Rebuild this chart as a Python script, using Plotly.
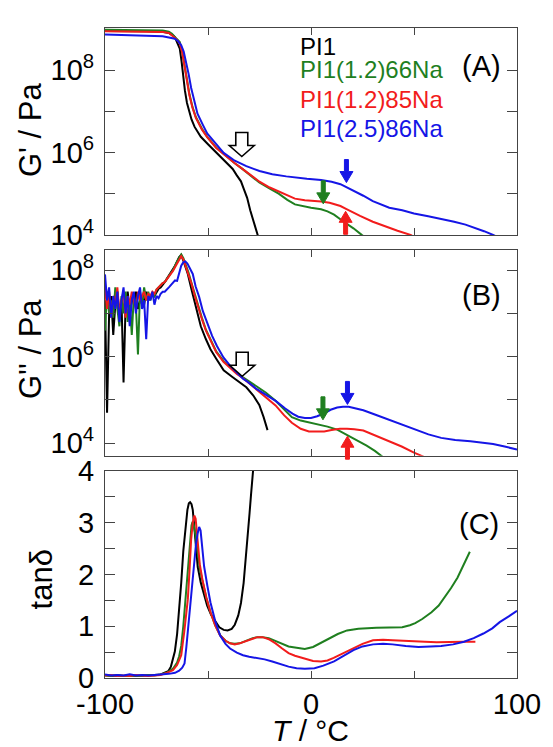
import plotly.graph_objects as go

FONT = "Liberation Sans, Arial, Helvetica, sans-serif"
AXIS_COLOR = "#444444"

SERIES = ["PI1", "PI1(1.2)66Na", "PI1(1.2)85Na", "PI1(2.5)86Na"]
COLORS = ["#000000", "#1f7f1f", "#f21c1c", "#1515e6"]

# ---------------- Panel A : log10 G' / Pa ----------------
A_T_PI1 = [-100, -90, -80, -72, -69, -67, -66.1, -64.8, -63.7, -62.8, -62.2, -61.2, -60.2, -59, -58, -56.5,
           -55, -53.5, -50, -47.2, -44, -40.9, -38, -36.1, -34, -32.5, -31, -29.5, -27.8, -25.9, -25]
A_G_PI1 = [8.95, 8.95, 8.94, 8.93, 8.9, 8.84, 8.80, 8.65, 8.52, 8.2, 7.9, 7.5, 7.2, 6.98, 6.8, 6.62,
           6.5, 6.38, 6.2, 6.06, 5.92, 5.75, 5.6, 5.45, 5.3, 5.1, 4.9, 4.6, 4.3, 4.0, 3.85]

A_T_66 = [-100, -85, -72, -69, -67.5, -66, -64.5, -63.7, -62.5, -61.4, -60, -59, -57.5, -55.9, -53, -50.4,
          -46, -40.9, -37, -33, -29, -25.1, -20, -15.7, -11.5, -7.8, 0, 4.9, 8, 11.2, 15.9, 20.6, 24.6, 26]
A_G_66 = [8.98, 8.97, 8.96, 8.93, 8.88, 8.8, 8.72, 8.68, 8.45, 8.13, 7.7, 7.41, 7.1, 6.86, 6.58, 6.38,
          6.12, 5.90, 5.74, 5.59, 5.42, 5.27, 5.12, 5.0, 4.85, 4.74, 4.66, 4.62, 4.57, 4.49, 4.32, 4.16, 4.0, 3.95]

A_T_85 = [-100, -85, -72, -69, -67.5, -66, -64.5, -63.7, -62.5, -61.4, -60, -59, -57.5, -55.9, -53, -50.4,
          -46, -40.9, -37, -33, -29, -25, -20, -15.7, -11, -7.8, -3, 0, 4.9, 9, 12, 14.3, 17, 20, 23.8,
          30, 36.4, 42, 48.3, 49]
A_G_85 = [8.94, 8.93, 8.92, 8.9, 8.85, 8.78, 8.7, 8.64, 8.42, 8.1, 7.66, 7.38, 7.08, 6.84, 6.56, 6.37,
          6.11, 5.89, 5.74, 5.59, 5.43, 5.29, 5.15, 5.05, 4.95, 4.88, 4.84, 4.83, 4.81, 4.78, 4.74, 4.70, 4.63,
          4.55, 4.46, 4.32, 4.2, 4.1, 4.0, 3.98]

A_T_86 = [-100, -90, -80, -72, -69, -67, -66.1, -64.5, -63, -61.8, -60.6, -59.4, -58.2, -56.6, -55.1, -52.5,
          -50.4, -46, -42.4, -37, -31.4, -25, -18.8, -12, -7.8, -2, 4.9, 10, 14.3, 18, 21, 25.4, 30, 33.3,
          38, 44.3, 50, 56.9, 63.2, 69.5, 75, 80, 84, 88.4, 90]
A_G_86 = [8.86, 8.85, 8.84, 8.82, 8.79, 8.77, 8.76, 8.7, 8.6, 8.45, 8.21, 7.9, 7.57, 7.22, 6.94, 6.67,
          6.46, 6.2, 5.99, 5.8, 5.67, 5.55, 5.47, 5.42, 5.39, 5.36, 5.33, 5.29, 5.23, 5.14, 5.06, 4.95, 4.82, 4.75,
          4.66, 4.60, 4.52, 4.45, 4.39, 4.32, 4.25, 4.17, 4.09, 4.0, 3.96]

# ---------------- Panel B : log10 G'' / Pa ----------------
B_T_NOISE = [-100, -99, -98, -97, -96, -95, -94, -93, -92, -91, -90, -89, -88, -87, -86, -85, -84, -83,
             -82, -81, -80, -79, -78, -77, -76, -75, -74, -73, -72]
B_N_PI1 = [7.3, 4.7, 7.0, 7.4, 6.5, 7.2, 7.5, 7.0, 7.3, 5.4, 7.2, 7.5, 7.1, 7.4, 7.2, 7.5, 7.1, 7.3,
           7.4, 7.2, 7.5, 7.3, 7.4, 7.45, 7.4, 7.5, 7.57, 7.6, 7.65]
B_N_66 = [6.6, 7.5, 7.0, 7.3, 6.9, 7.6, 7.1, 6.7, 7.4, 7.0, 7.5, 6.8, 7.3, 6.5, 7.4, 7.2, 6.05, 7.5,
          7.2, 7.6, 7.3, 7.5, 7.3, 7.45, 7.4, 7.55, 7.6, 7.65, 7.7]
B_N_85 = [7.6, 7.1, 7.5, 6.9, 7.4, 7.2, 7.6, 7.0, 7.3, 7.5, 6.9, 7.4, 7.2, 7.5, 7.3, 7.1, 7.5, 7.3,
          7.4, 7.5, 7.3, 7.45, 7.4, 7.5, 7.45, 7.55, 7.6, 7.65, 7.7]
B_N_86 = [7.9, 7.3, 7.6, 6.9, 7.4, 7.1, 7.5, 6.8, 7.3, 7.6, 7.0, 7.4, 6.7, 7.3, 7.5, 7.0, 7.4, 7.6,
          7.1, 7.3, 6.4, 7.4, 7.3, 7.5, 7.2, 7.4, 7.35, 7.45, 7.5]

B_T_PI1 = [-71, -70, -68, -66, -64, -63, -62, -61, -59.8, -58, -56.6, -55, -53.5, -51, -48.8, -46, -42.4,
           -38, -36, -33, -31.4, -28, -25.1, -23, -21.1]
B_G_PI1 = [7.72, 7.8, 7.95, 8.1, 8.3, 8.35, 8.22, 8.08, 7.91, 7.55, 7.30, 7.0, 6.70, 6.4, 6.17, 5.95, 5.68,
           5.52, 5.45, 5.36, 5.29, 5.1, 4.88, 4.6, 4.3]

B_T_66 = [-71, -69, -67, -65, -63.5, -63, -62, -61, -59.5, -58, -56.5, -55, -53, -51, -48.5, -46, -42.5,
          -39, -36, -33, -30, -26, -22, -17.2, -13, -9.3, -5, 0, 3.3, 8, 12.7, 17, 22.2, 27, 31, 34.8]
B_G_66 = [7.72, 7.85, 8.0, 8.2, 8.33, 8.36, 8.28, 8.15, 7.95, 7.7, 7.45, 7.2, 6.9, 6.62, 6.35, 6.12, 5.9,
          5.74, 5.62, 5.52, 5.42, 5.29, 5.17, 4.98, 4.78, 4.6, 4.52, 4.47, 4.44, 4.38, 4.31, 4.2, 4.08, 3.94,
          3.82, 3.68]

B_T_85 = [-71, -69, -67, -65, -63.5, -63, -62, -61, -59.5, -58, -56.5, -55, -53, -51, -48.5, -46, -42.5,
          -39, -36, -33, -30, -26, -22, -17.2, -13, -9.3, -5, -1, 3, 6.4, 10, 14, 17.5, 21, 25.4, 30, 34,
          38, 44, 50, 55.3]
B_G_85 = [7.72, 7.85, 7.98, 8.15, 8.3, 8.32, 8.25, 8.12, 7.92, 7.68, 7.42, 7.17, 6.87, 6.6, 6.33, 6.1, 5.88,
          5.72, 5.6, 5.5, 5.38, 5.22, 5.06, 4.87, 4.64, 4.47, 4.33, 4.27, 4.27, 4.27, 4.3, 4.33, 4.33, 4.32,
          4.29, 4.2, 4.12, 4.04, 3.92, 3.78, 3.67]

B_T_86 = [-71, -69, -67, -66, -65, -64, -63, -62, -61, -60, -58.5, -57.4, -56, -54.3, -52.5, -50.4, -48,
          -45.6, -42.5, -39.3, -36, -33, -31.4, -26.7, -22, -17, -12.5, -9, -6.2, -3, 0, 3, 6.4, 9.5, 12.7,
          15.5, 18.3, 21.5, 25.4, 31, 38, 44, 50.6, 57, 63.2, 70, 77.4, 83, 88.4, 94, 100]
B_G_86 = [7.5, 7.6, 7.72, 7.76, 7.75, 7.9, 8.1, 8.18, 8.2, 8.15, 8.02, 7.91, 7.62, 7.38, 7.05, 6.77, 6.48,
          6.24, 5.98, 5.79, 5.62, 5.49, 5.44, 5.26, 5.12, 4.97, 4.80, 4.68, 4.61, 4.58, 4.58, 4.62, 4.69, 4.77,
          4.82, 4.84, 4.84, 4.81, 4.76, 4.66, 4.54, 4.43, 4.31, 4.2, 4.12, 4.07, 4.04, 4.01, 3.98, 3.92, 3.85]

# ---------------- Panel C : tan delta ----------------
C_T_PI1 = [-100, -97, -94, -91, -88, -85, -82, -79, -76, -73, -71, -69.3, -68, -67, -66.1, -65, -64, -63,
           -62, -61, -60, -59.3, -58.7, -58, -57.4, -56.5, -55.9, -55, -53.5, -52, -50.4, -48.5, -46.4,
           -44.5, -42.4, -40.5, -38.5, -37, -35.3, -34, -32.7, -31.5, -30.6, -29.8, -29.1, -28, -27.5]
C_D_PI1 = [0.06, 0.04, 0.05, 0.04, 0.05, 0.04, 0.05, 0.05, 0.06, 0.07, 0.1, 0.13, 0.22, 0.35, 0.51, 0.85,
           1.3, 1.84, 2.45, 2.92, 3.25, 3.38, 3.40, 3.36, 3.25, 2.85, 2.48, 2.15, 1.84, 1.6, 1.40, 1.22, 1.08,
           0.98, 0.93, 0.92, 0.95, 1.03, 1.21, 1.45, 1.84, 2.35, 2.79, 3.2, 3.55, 4.06, 4.3]

C_T_66 = [-100, -97, -94, -91, -88, -85, -82, -79, -76, -73, -70, -67, -65, -64, -63, -62, -61, -60, -59,
          -58, -57.5, -57, -56, -55, -54, -52.7, -50.8, -48.8, -46.5, -44.1, -41.5, -39.3, -37, -34.6, -31.5,
          -28.3, -26, -23.5, -20.5, -17.2, -14, -10.9, -7.8, -3, 1, 4.9, 9, 13, 17.5, 23, 31.7, 38, 44.3, 48,
          50.6, 54, 58.5, 62, 64.8, 68, 71.1, 74.3, 76, 77.1]
C_D_66 = [0.05, 0.04, 0.06, 0.04, 0.05, 0.05, 0.04, 0.06, 0.05, 0.07, 0.1, 0.18, 0.3, 0.42, 0.62, 1.0, 1.5,
          2.1, 2.6, 2.95, 3.02, 2.98, 2.75, 2.4, 2.12, 1.88, 1.55, 1.27, 1.02, 0.83, 0.72, 0.67, 0.66, 0.67,
          0.72, 0.77, 0.79, 0.79, 0.77, 0.72, 0.66, 0.61, 0.59, 0.56, 0.6, 0.68, 0.76, 0.85, 0.92, 0.95, 0.97,
          0.97, 0.98, 1.02, 1.06, 1.14, 1.27, 1.4, 1.55, 1.74, 1.94, 2.22, 2.35, 2.44]

C_T_85 = [-100, -97, -94, -91, -88, -85, -82, -79, -76, -73, -70, -67, -65, -64, -63, -61.5, -59.8, -59,
          -58.2, -57.4, -56.6, -56, -55.1, -54, -52.7, -50.8, -48.8, -46.5, -44.1, -41.5, -39.3, -37, -34.6,
          -31.5, -28.3, -26, -23.5, -20.5, -17.2, -14, -10.9, -7.8, -3, 1, 4.9, 8, 11, 15.9, 20, 25, 30.1, 35,
          39.6, 47, 55.3, 61, 67.9, 74, 79.8]
C_D_85 = [0.05, 0.06, 0.04, 0.05, 0.04, 0.06, 0.05, 0.04, 0.05, 0.06, 0.1, 0.15, 0.25, 0.33, 0.44, 0.9,
          1.52, 2.05, 2.67, 3.0, 3.14, 3.08, 2.60, 2.2, 1.90, 1.55, 1.27, 1.02, 0.82, 0.72, 0.67, 0.65, 0.67,
          0.72, 0.76, 0.79, 0.79, 0.75, 0.67, 0.57, 0.48, 0.43, 0.37, 0.33, 0.32, 0.34, 0.39, 0.48, 0.57, 0.66,
          0.73, 0.74, 0.73, 0.71, 0.70, 0.69, 0.70, 0.70, 0.70]

C_T_86 = [-100, -97, -94, -91, -88, -85, -82, -79, -76, -72, -69, -66, -64, -62.5, -61.4, -60.5, -59.8, -59,
          -58, -57.3, -56.6, -55.8, -55, -54.3, -53.6, -52.8, -51.9, -50.3, -48.8, -46.5, -44.1, -41.5, -39.3,
          -36, -33, -30, -26.7, -22.5, -18.8, -14.5, -10.9, -7, -3, 1.7, 6, 11.2, 16, 20.6, 25, 30.1, 35, 39.6,
          46, 52.2, 58, 63.2, 69, 74.3, 79, 83.7, 88, 91.6, 96, 100]
C_D_86 = [0.07, 0.05, 0.06, 0.05, 0.07, 0.05, 0.06, 0.05, 0.06, 0.07, 0.08, 0.1, 0.14, 0.2, 0.28, 0.6, 0.9,
          1.21, 1.65, 2.0, 2.29, 2.6, 2.8, 2.92, 2.85, 2.5, 2.16, 1.78, 1.46, 1.1, 0.82, 0.66, 0.57, 0.49, 0.44,
          0.41, 0.39, 0.36, 0.32, 0.26, 0.22, 0.19, 0.18, 0.19, 0.24, 0.32, 0.43, 0.54, 0.61, 0.65, 0.66, 0.65,
          0.62, 0.60, 0.61, 0.62, 0.65, 0.70, 0.77, 0.86, 0.96, 1.08, 1.19, 1.30]

# tick values / labels
X_MAJOR = [-100, 0, 100]
X_MAJOR_TEXT = ["-100", "0", "100"]
X_MINOR = [-50, 50]
LOG_MAJOR = [1e4, 1e6, 1e8]
LOG_MAJOR_TEXT = ["10<sup>4</sup>", "10<sup>6</sup>", "10<sup>8</sup>"]
LOG_MINOR = [1e5, 1e7]
TAN_MAJOR = [0, 1, 2, 3, 4]
TAN_MINOR = [0.5, 1.5, 2.5, 3.5]

# marker arrows (T position, panel-height fraction of the tip)
ARROWS_A = [("open", -33.6, 0.379), ("down", 5.96, 0.150, 1), ("down", 17.2, 0.253, 3), ("up", 16.8, 0.114, 2)]
ARROWS_B = [("open", -33.4, 0.387), ("down", 5.8, 0.175, 1), ("down", 17.7, 0.250, 3), ("up", 17.7, 0.0955, 2)]

fig = go.Figure()

panelA = [(A_T_PI1, A_G_PI1), (A_T_66, A_G_66), (A_T_85, A_G_85), (A_T_86, A_G_86)]
for (t, g), name, col in zip(panelA, SERIES, COLORS):
    fig.add_trace(go.Scatter(x=t, y=[10 ** v for v in g], mode="lines", name=name,
                             line=dict(color=col, width=2), xaxis="x", yaxis="y", showlegend=False))

panelB = [(B_N_PI1, B_T_PI1, B_G_PI1), (B_N_66, B_T_66, B_G_66), (B_N_85, B_T_85, B_G_85),
          (B_N_86, B_T_86, B_G_86)]
for (n, t, g), name, col in zip(panelB, SERIES, COLORS):
    tt = B_T_NOISE + t
    gg = n + g
    fig.add_trace(go.Scatter(x=tt, y=[10 ** v for v in gg], mode="lines", name=name,
                             line=dict(color=col, width=2), xaxis="x2", yaxis="y2", showlegend=False))

panelC = [(C_T_PI1, C_D_PI1), (C_T_66, C_D_66), (C_T_85, C_D_85), (C_T_86, C_D_86)]
for (t, d), name, col in zip(panelC, SERIES, COLORS):
    fig.add_trace(go.Scatter(x=t, y=d, mode="lines", name=name,
                             line=dict(color=col, width=2), xaxis="x3", yaxis="y3", showlegend=False))


def arrow_path(kind):
    if kind == "open":
        L, hl, hh, sh = 24, 11, 12.5, 6
        s = 1
    else:
        L, hl, hh, sh = 23, 11, 6.5, 2
        s = 1 if kind == "down" else -1
    pts = [(0, 0), (-hh, s * hl), (-sh, s * hl), (-sh, s * L), (sh, s * L), (sh, s * hl), (hh, s * hl)]
    return "M " + " L ".join(f"{x},{y}" for x, y in pts) + " Z"


shapes = []
for arrows, xr, yr in [(ARROWS_A, "x", "y domain"), (ARROWS_B, "x2", "y2 domain")]:
    for a in arrows:
        kind = a[0]
        if kind == "open":
            fill, lc, lw = "white", "black", 1.6
        else:
            fill = lc = COLORS[a[3]]
            lw = 1
        shapes.append(dict(type="path", xref=xr, yref=yr, xsizemode="pixel", ysizemode="pixel",
                           xanchor=a[1], yanchor=a[2], path=arrow_path(kind),
                           fillcolor=fill, line=dict(color=lc, width=lw), layer="above"))

common_x = dict(range=[-100, 100], tickmode="array", tickvals=X_MAJOR, ticktext=X_MAJOR_TEXT,
                ticks="inside", ticklen=7, tickwidth=1, tickcolor=AXIS_COLOR,
                minor=dict(tickmode="array", tickvals=X_MINOR, ticks="inside", ticklen=7, tickwidth=1,
                           tickcolor=AXIS_COLOR, showgrid=False),
                showline=True, linecolor=AXIS_COLOR, linewidth=1.2,
                mirror="ticks", showgrid=False, zeroline=False,
                tickfont=dict(family=FONT, size=29, color="black"))
common_y = dict(ticks="inside", ticklen=10, tickwidth=1, tickcolor=AXIS_COLOR, showline=True,
                linecolor=AXIS_COLOR, linewidth=1.2, mirror="ticks", showgrid=False, zeroline=False,
                tickfont=dict(family=FONT, size=29, color="black"), ticklabelstandoff=4)
minor_y = dict(tickmode="array", ticks="inside", ticklen=10, tickwidth=1, tickcolor=AXIS_COLOR, showgrid=False)

fig.update_layout(
    width=553, height=747, paper_bgcolor="white", plot_bgcolor="white",
    margin=dict(l=105, r=25, t=16, b=69),
    xaxis=dict(common_x, domain=[0, 1], anchor="y", showticklabels=False),
    yaxis=dict(common_y, domain=[0.6817, 1.0], anchor="x", type="log", range=[4.0, 9.02],
               tickmode="array", tickvals=LOG_MAJOR, ticktext=LOG_MAJOR_TEXT,
               minor=dict(minor_y, tickvals=LOG_MINOR)),
    xaxis2=dict(common_x, domain=[0, 1], anchor="y2", showticklabels=False),
    yaxis2=dict(common_y, domain=[0.3418, 0.6582], anchor="x2", type="log", range=[3.705, 8.46],
                tickmode="array", tickvals=LOG_MAJOR, ticktext=LOG_MAJOR_TEXT,
                minor=dict(minor_y, tickvals=LOG_MINOR)),
    xaxis3=dict(common_x, domain=[0, 1], anchor="y3"),
    yaxis3=dict(common_y, domain=[0, 0.3183], anchor="x3", range=[0, 4],
                tickmode="array", tickvals=TAN_MAJOR, ticktext=[str(v) for v in TAN_MAJOR],
                minor=dict(minor_y, tickvals=TAN_MINOR)),
    shapes=shapes,
    showlegend=False,
)

ann = []
# legend texts
leg_y = [0.91, 0.801, 0.656, 0.514]
for name, col, yy in zip(SERIES, COLORS, leg_y):
    ann.append(dict(text=name, xref="x domain", yref="y domain", x=0.4677, y=yy, xanchor="left",
                    yanchor="middle", showarrow=False, font=dict(family=FONT, size=24, color=col)))
# panel labels
for lab, xr, yr, xx, yy in [("(A)", "x domain", "y domain", 0.915, 0.814),
                            ("(B)", "x2 domain", "y2 domain", 0.915, 0.780),
                            ("(C)", "x3 domain", "y3 domain", 0.908, 0.742)]:
    ann.append(dict(text=lab, xref=xr, yref=yr, x=xx, y=yy, xanchor="center", yanchor="middle",
                    showarrow=False, font=dict(family=FONT, size=29, color="black")))
# axis titles
ann.append(dict(text="G' / Pa", xref="paper", yref="paper", x=-0.182, y=0.843, textangle=-90,
                showarrow=False, xanchor="center", yanchor="middle",
                font=dict(family=FONT, size=31, color="black")))
ann.append(dict(text="G'' / Pa", xref="paper", yref="paper", x=-0.182, y=0.506, textangle=-90,
                showarrow=False, xanchor="center", yanchor="middle",
                font=dict(family=FONT, size=31, color="black")))
ann.append(dict(text="tanδ", xref="paper", yref="paper", x=-0.154, y=0.151, textangle=-90,
                showarrow=False, xanchor="center", yanchor="middle",
                font=dict(family=FONT, size=31, color="black")))
ann.append(dict(text="<i>T</i> / °C", xref="paper", yref="paper", x=0.499, y=-0.08,
                showarrow=False, xanchor="center", yanchor="middle",
                font=dict(family=FONT, size=30, color="black")))
fig.update_layout(annotations=ann)

fig.write_html("out.html")
